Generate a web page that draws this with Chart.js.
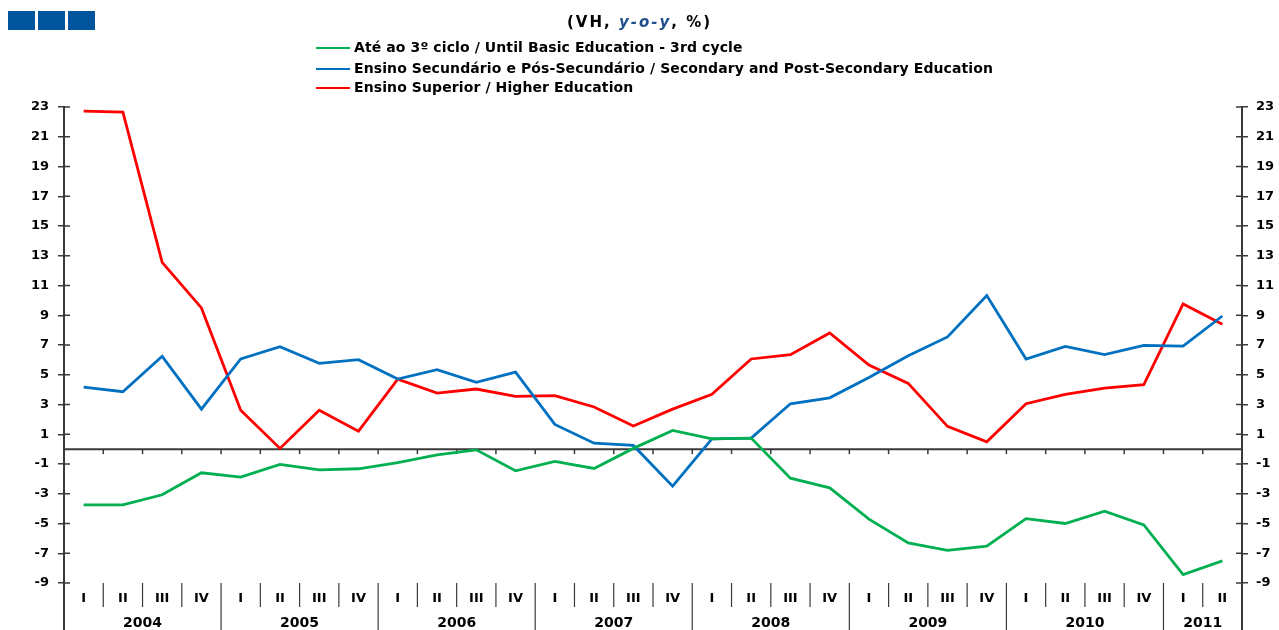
<!DOCTYPE html>
<html>
<head>
<meta charset="utf-8">
<script src="https://cdn.jsdelivr.net/npm/chart.js@4.4.0/dist/chart.umd.min.js"></script>
<style>
  body { margin: 0; background: #fff; }
  #wrap { position: relative; width: 1279px; height: 630px; overflow: hidden; }
  #c { position: absolute; left: 0; top: 0; }
  .sq { position: absolute; top: 11px; width: 27px; height: 19px; background: #00569c; }
  #title { position: absolute; top: 13px; left: 0; width: 1279px; text-align: center;
           font: bold 15px "DejaVu Sans", sans-serif; letter-spacing: 2px; color: #000; }
  #title i { color: #1f4e8c; }
  .leg { position: absolute; left: 316px; white-space: nowrap; font: bold 14px "DejaVu Sans", sans-serif;
         letter-spacing: 0.1px; color: #000; }
  .leg .sw { display: inline-block; width: 34px; height: 2px; vertical-align: middle; margin-right: 4px; }
</style>
</head>
<body>
<div id="wrap">
  <canvas id="c" width="1279" height="630"></canvas>
  <div class="sq" style="left:8px"></div>
  <div class="sq" style="left:38px"></div>
  <div class="sq" style="left:68px"></div>
  <div id="title">(VH, <i>y-o-y</i>, %)</div>
  <div id="legend"></div>
</div>
<script>
// Quarters shown on the x axis
const periods = [
    '2004 I', '2004 II', '2004 III', '2004 IV',
    '2005 I', '2005 II', '2005 III', '2005 IV',
    '2006 I', '2006 II', '2006 III', '2006 IV',
    '2007 I', '2007 II', '2007 III', '2007 IV',
    '2008 I', '2008 II', '2008 III', '2008 IV',
    '2009 I', '2009 II', '2009 III', '2009 IV',
    '2010 I', '2010 II', '2010 III', '2010 IV',
    '2011 I', '2011 II'
];

// y-o-y change, %
const basicEdu = [-3.75, -3.75, -3.07, -1.59, -1.88, -1.03, -1.39, -1.32, -0.90, -0.38,
    -0.05, -1.46, -0.83, -1.30, 0.05, 1.26, 0.69, 0.74, -1.95, -2.60,
    -4.71, -6.30, -6.80, -6.53, -4.67, -5.00, -4.17, -5.09, -8.43, -7.51];
const secondaryEdu = [4.17, 3.86, 6.24, 2.69, 6.06, 6.89, 5.77, 6.01, 4.71, 5.34,
    4.49, 5.18, 1.66, 0.40, 0.25, -2.49, 0.69, 0.74, 3.05, 3.45,
    4.82, 6.28, 7.54, 10.32, 6.06, 6.91, 6.35, 6.98, 6.93, 8.95];
const higherEdu = [22.72, 22.66, 12.56, 9.49, 2.62, 0.05, 2.62, 1.21, 4.71, 3.77,
    4.04, 3.54, 3.59, 2.83, 1.55, 2.69, 3.68, 6.06, 6.35, 7.81,
    5.65, 4.42, 1.53, 0.49, 3.05, 3.68, 4.10, 4.33, 9.76, 8.39];

const seriesNames = [
    'Até ao 3º ciclo / Until Basic Education - 3rd cycle',
    'Ensino Secundário e Pós-Secundário / Secondary and Post-Secondary Education',
    'Ensino Superior / Higher Education'
];
const seriesColors = ['#00b050', '#0070c0', '#ff0000'];

const axisColor = '#3a3a3a';
const tickFont = { family: 'DejaVu Sans', size: 13, weight: 'bold' };

// HTML legend, one row per series
const legendTops = [39, 60, 79];
const legendEl = document.getElementById('legend');
seriesNames.forEach((name, i) => {
    const row = document.createElement('div');
    row.className = 'leg';
    row.style.top = legendTops[i] + 'px';
    row.innerHTML = '<span class="sw" style="background:' + seriesColors[i] + '"></span>' + name;
    legendEl.appendChild(row);
});

// Extra drawing: zero line, crossing ticks, quarter/year labels
const decor = {
    id: 'decor',
    beforeDatasetsDraw(chart) {
        const { ctx, chartArea: a, scales: { x, y } } = chart;
        const y0 = y.getPixelForValue(0);
        ctx.save();
        ctx.strokeStyle = axisColor;
        ctx.lineWidth = 2;
        ctx.beginPath();
        ctx.moveTo(a.left, y0);
        ctx.lineTo(a.right, y0);
        ctx.stroke();
        ctx.lineWidth = 1.5;
        for (let i = 1; i < periods.length; i++) {
            const bx = (x.getPixelForValue(i - 1) + x.getPixelForValue(i)) / 2;
            ctx.beginPath();
            ctx.moveTo(bx, y0);
            ctx.lineTo(bx, y0 + 5);
            ctx.stroke();
        }
        ctx.restore();
    },
    afterDraw(chart) {
        const { ctx, chartArea: a, scales: { x, y } } = chart;
        const H = chart.height;
        ctx.save();
        ctx.strokeStyle = axisColor;

        // inner half of the y tick marks
        ctx.lineWidth = 1.5;
        y.ticks.forEach(t => {
            const py = y.getPixelForValue(t.value);
            ctx.beginPath();
            ctx.moveTo(a.left, py); ctx.lineTo(a.left + 6, py);
            ctx.moveTo(a.right - 6, py); ctx.lineTo(a.right, py);
            ctx.stroke();
        });

        // axes continue down through the label band
        ctx.lineWidth = 2;
        ctx.beginPath();
        ctx.moveTo(a.left, a.bottom); ctx.lineTo(a.left, H);
        ctx.moveTo(a.right, a.bottom); ctx.lineTo(a.right, H);
        ctx.stroke();

        // quarter labels and separators
        ctx.fillStyle = '#000';
        ctx.textAlign = 'center';
        ctx.textBaseline = 'middle';
        ctx.font = 'bold 13px "DejaVu Sans"';
        const yearStarts = [];
        periods.forEach((p, i) => {
            const [yr, q] = p.split(' ');
            const px = x.getPixelForValue(i);
            ctx.fillText(q, px, a.bottom + 16);
            const left = i === 0 ? a.left : (x.getPixelForValue(i - 1) + px) / 2;
            if (q === 'I') yearStarts.push({ yr, left });
            if (i > 0) {
                ctx.lineWidth = 1.2;
                ctx.beginPath();
                ctx.moveTo(left, a.bottom);
                ctx.lineTo(left, q === 'I' ? H : a.bottom + 24);
                ctx.stroke();
            }
        });

        // year labels centred under their quarters
        ctx.font = 'bold 14px "DejaVu Sans"';
        yearStarts.forEach((s, k) => {
            const right = k + 1 < yearStarts.length ? yearStarts[k + 1].left : a.right;
            ctx.fillText(s.yr, (s.left + right) / 2, a.bottom + 40);
        });
        ctx.restore();
    }
};

const yAxisBase = {
    min: -9,
    max: 23,
    ticks: { stepSize: 2, font: tickFont, color: '#000' },
    grid: { drawOnChartArea: false, tickLength: 6, color: axisColor, lineWidth: 1.5 },
    border: { color: axisColor, width: 2 }
};

const ctx = document.getElementById('c').getContext('2d');
const chart = new Chart(ctx, {
    type: 'line',
    data: {
        labels: periods,
        datasets: [basicEdu, secondaryEdu, higherEdu].map((d, i) => ({
            label: seriesNames[i],
            data: d,
            borderColor: seriesColors[i],
            backgroundColor: seriesColors[i],
            borderWidth: 2.8,
            pointRadius: 0,
            tension: 0,
            fill: false
        }))
    },
    options: {
        responsive: false,
        animation: false,
        layout: { padding: { top: 107, bottom: 47, left: 0, right: 4 } },
        plugins: { legend: { display: false }, tooltip: { enabled: false } },
        scales: {
            x: { type: 'category', offset: true, display: false },
            y: Object.assign({}, yAxisBase, {
                position: 'left',
                ticks: Object.assign({}, yAxisBase.ticks, { padding: 9 }),
                afterFit(s) { s.width = 64; }
            }),
            y2: Object.assign({}, yAxisBase, {
                position: 'right',
                ticks: Object.assign({}, yAxisBase.ticks, { padding: 8 }),
                afterFit(s) { s.width = 33; }
            })
        }
    },
    plugins: [decor]
});
</script>
</body>
</html>
